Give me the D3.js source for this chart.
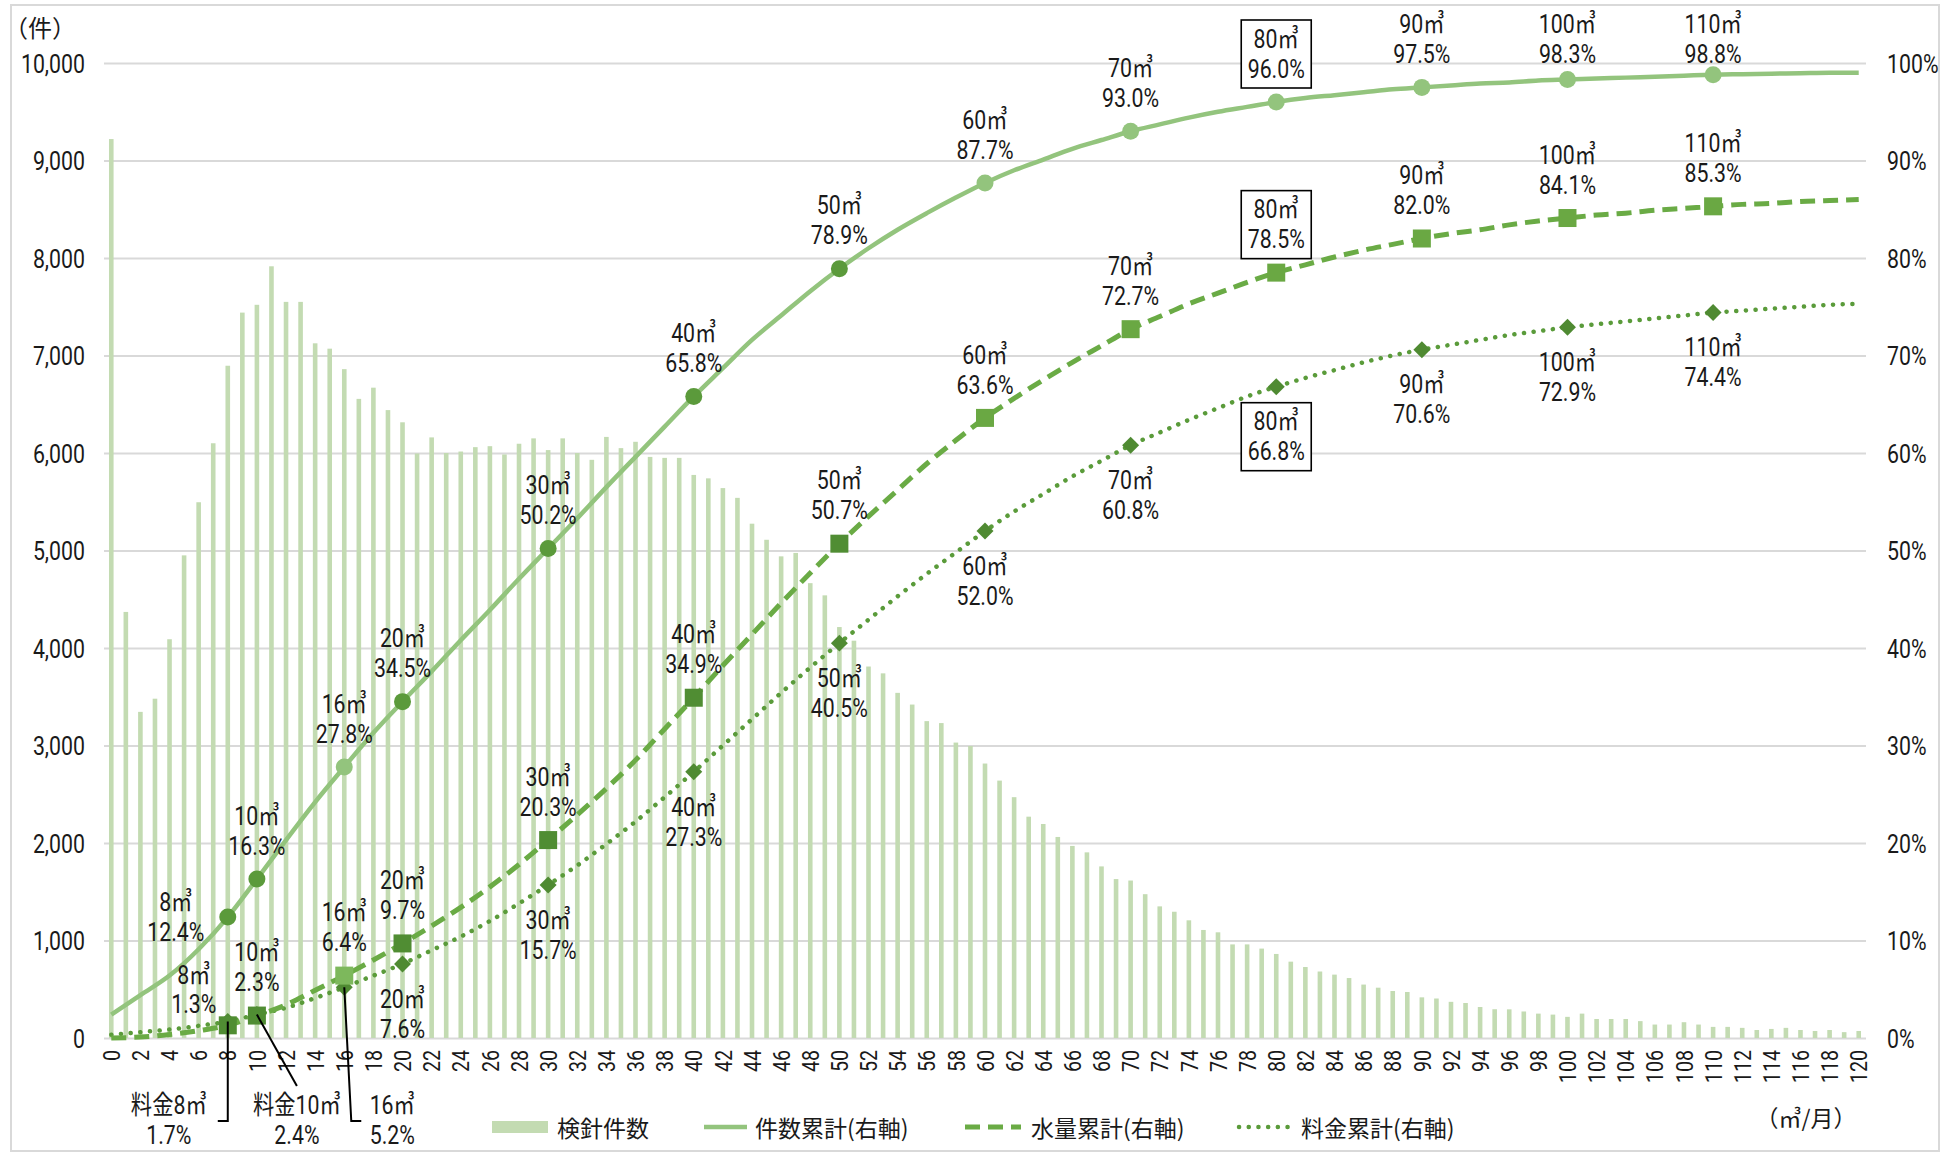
<!DOCTYPE html>
<html>
<head>
<meta charset="utf-8">
<script src="https://cdn.jsdelivr.net/npm/d3@7"></script>
<style>
  html, body { margin: 0; padding: 0; background: #ffffff; }
  svg { display: block; }
</style>
</head>
<body>
<script>
// ---------------- DATA ----------------
const categories = [0,1,2,3,4,5,6,7,8,9,10,11,12,13,14,15,16,17,18,19,20,21,22,23,24,25,26,27,28,29,30,31,32,33,34,35,36,37,38,39,40,41,42,43,44,45,46,47,48,49,50,51,52,53,54,55,56,57,58,59,60,61,62,63,64,65,66,67,68,69,70,71,72,73,74,75,76,77,78,79,80,81,82,83,84,85,86,87,88,89,90,91,92,93,94,95,96,97,98,99,100,101,102,103,104,105,106,107,108,109,110,111,112,113,114,115,116,117,118,119,120];

// 検針件数 (left axis, 件)
const meterCounts = [9220,4370,3345,3480,4090,4950,5495,6100,6895,7440,
  7520,7915,7550,7550,7125,7070,6860,6555,6670,6440,
  6315,5995,6160,6000,6015,6060,6070,5985,6095,6150,
  6030,6150,6000,5930,6165,6050,6115,5960,5950,5950,
  5775,5740,5640,5540,5275,5110,4940,4975,4665,4540,
  4215,4075,3810,3740,3540,3420,3250,3230,3030,2995,
  2815,2640,2470,2270,2195,2062,1970,1904,1760,1630,
  1615,1475,1350,1295,1207,1108,1084,960,960,917,
  862,783,728,682,650,615,548,516,482,472,
  417,405,371,359,318,295,294,272,250,240,
  217,250,195,195,195,173,138,138,162,138,
  114,114,104,82,93,104,82,72,82,60,72];

// cumulative lines (right axis, %), read at every 2 ㎥
const lineX = [0,2,4,6,8,10,12,14,16,18,20,22,24,26,28,30,32,34,36,38,40,42,44,46,48,50,52,54,56,58,60,62,64,66,68,70,72,74,76,78,80,82,84,86,88,90,92,94,96,98,100,102,104,106,108,110,112,114,116,118,120];
const countCum = [2.4,4.4,6.4,9.1,12.4,16.3,20.3,24.2,27.8,31.3,34.5,37.6,40.8,43.9,47.1,50.2,53.3,56.5,59.6,62.7,65.8,68.7,71.6,74.1,76.6,78.9,81.0,82.9,84.6,86.2,87.7,89.0,90.1,91.2,92.1,93.0,93.7,94.4,95.0,95.5,96.0,96.4,96.7,97.0,97.3,97.5,97.7,97.9,98.0,98.2,98.3,98.4,98.5,98.6,98.7,98.8,98.85,98.9,98.95,99.0,99.0];
const waterCum = [0.0,0.1,0.35,0.75,1.3,2.3,3.4,4.9,6.4,8.0,9.7,11.5,13.4,15.5,17.8,20.3,22.9,25.6,28.5,31.7,34.9,38.2,41.4,44.6,47.7,50.7,53.5,56.2,58.9,61.3,63.6,65.6,67.5,69.3,71.0,72.7,74.0,75.3,76.4,77.5,78.5,79.3,80.1,80.8,81.4,82.0,82.5,82.9,83.4,83.8,84.1,84.4,84.6,84.9,85.1,85.3,85.5,85.6,85.8,85.9,86.0];
const feeCum = [0.33,0.6,0.87,1.25,1.7,2.4,3.1,4.1,5.2,6.4,7.6,9.0,10.4,12.0,13.8,15.7,17.7,19.9,22.2,24.7,27.3,30.0,32.7,35.4,38.0,40.5,42.9,45.3,47.6,49.8,52.0,54.0,55.8,57.6,59.2,60.8,62.1,63.4,64.6,65.8,66.8,67.7,68.5,69.3,70.0,70.6,71.1,71.6,72.1,72.5,72.9,73.2,73.5,73.8,74.1,74.4,74.6,74.8,75.0,75.2,75.3];

// labelled points
const markerX = [8,10,16,20,30,40,50,60,70,80,90,100,110];
const countMarkers = [12.4,16.3,27.8,34.5,50.2,65.8,78.9,87.7,93.0,96.0,97.5,98.3,98.8];
const waterMarkers = [1.3,2.3,6.4,9.7,20.3,34.9,50.7,63.6,72.7,78.5,82.0,84.1,85.3];
const feeMarkers = [1.7,2.4,5.2,7.6,15.7,27.3,40.5,52.0,60.8,66.8,70.6,72.9,74.4];

// ticks & texts
const leftTicks = [0,1000,2000,3000,4000,5000,6000,7000,8000,9000,10000];
const rightTicks = [0,10,20,30,40,50,60,70,80,90,100];
const xTickLabels = [0,2,4,6,8,10,12,14,16,18,20,22,24,26,28,30,32,34,36,38,40,42,44,46,48,50,52,54,56,58,60,62,64,66,68,70,72,74,76,78,80,82,84,86,88,90,92,94,96,98,100,102,104,106,108,110,112,114,116,118,120];
const seriesNames = ["検針件数","件数累計(右軸)","水量累計(右軸)","料金累計(右軸)"];
const leftUnit = "（件）";
const xUnit = "（㎥/月）";
const feePrefixed = {8: "料金8㎥", 10: "料金10㎥"};

// ---------------- STYLE / LAYOUT ----------------
const W = 1943, H = 1154;
const PL = 104, PR = 1866, PT = 63, PB = 1038;
const FONT = "Roboto,'Noto Sans CJK JP',sans-serif";
const CJK = "'Noto Sans CJK JP',sans-serif";
const SX = 0.82;
const TXT = "#1a1a1a";
const C = {
  bar: "#c3dbb2", grid: "#d9d9d9",
  countLine: "#93c47d", waterLine: "#6aab45", feeLine: "#5a9b3a",
  dark: "#5b9a3b", light: "#93c47d", sqDark: "#508d33", sqLight: "#7db85c", sqMed: "#6aa843", dia: "#4f8a32"
};
const countColor = [C.dark,C.dark,C.light,C.dark,C.dark,C.dark,C.dark,C.light,C.light,C.light,C.light,C.light,C.light];
const waterColor = [C.sqDark,C.sqDark,C.sqLight,C.sqDark,C.sqDark,C.sqDark,C.sqDark,C.sqMed,C.sqMed,C.sqMed,C.sqMed,C.sqMed,C.sqMed];

const svg = d3.select("body").append("svg").attr("width", W).attr("height", H)
  .style("font-family", FONT);

svg.append("rect").attr("x", 11).attr("y", 5).attr("width", 1928).attr("height", 1146)
  .attr("fill", "#fff").attr("stroke", "#d9d9d9").attr("stroke-width", 2);

const xb = d3.scaleBand().domain(categories).range([PL, PR]).paddingInner(0).paddingOuter(0);
const xc = v => xb(v) + xb.bandwidth() / 2;
const y = d3.scaleLinear().domain([0, 10000]).range([PB, PT]);
const yr = d3.scaleLinear().domain([0, 100]).range([PB, PT]);

// grid
const grid = svg.append("g").attr("transform", `translate(${PL},0)`)
  .call(d3.axisLeft(y).tickValues(leftTicks).tickSize(-(PR - PL)).tickFormat(""));
grid.select(".domain").remove();
grid.selectAll("line").attr("stroke", C.grid).attr("stroke-width", 2);

// left axis
const la = svg.append("g").attr("transform", `translate(${PL},0)`)
  .call(d3.axisLeft(y).tickValues(leftTicks).tickSize(0).tickPadding(19).tickFormat(d3.format(",")));
la.select(".domain").remove();
la.selectAll("text").attr("font-size", 26).attr("fill", TXT).style("font-family", FONT)
  .attr("x", null).attr("dy", "0.35em").attr("transform", `translate(-19,0) scale(${SX},1)`);

// right axis
const ra = svg.append("g").attr("transform", `translate(${PR},0)`)
  .call(d3.axisRight(yr).tickValues(rightTicks).tickSize(0).tickFormat(d => d + "%"));
ra.select(".domain").remove();
ra.selectAll("text").attr("font-size", 26).attr("fill", TXT).style("font-family", FONT)
  .attr("x", null).attr("dy", "0.35em").attr("transform", `translate(21,0) scale(${SX},1)`);

// x axis
const xa = svg.append("g").attr("transform", `translate(0,${PB})`)
  .call(d3.axisBottom(xb).tickValues(xTickLabels).tickSize(0).tickFormat(d => d));
xa.select(".domain").remove();
xa.selectAll("text")
  .attr("font-size", 24).attr("fill", TXT).style("font-family", FONT)
  .attr("text-anchor", "end").attr("x", 0).attr("y", 0).attr("dy", "0.36em")
  .attr("transform", `rotate(-90) translate(-12,0) scale(${SX},1)`);

// units
svg.append("text").attr("x", 40).attr("y", 26).attr("text-anchor", "middle").attr("dominant-baseline", "central")
  .attr("font-size", 24).attr("fill", TXT).style("font-family", CJK).text(leftUnit);
svg.append("text").attr("x", 1806).attr("y", 1117).attr("text-anchor", "middle").attr("dominant-baseline", "central")
  .attr("font-size", 23).attr("fill", TXT).style("font-family", CJK).text(xUnit);

// bars
const BW = 4.6;
svg.append("g").selectAll("rect").data(categories).join("rect")
  .attr("x", d => xc(d) - BW / 2).attr("width", BW)
  .attr("y", (d, i) => y(meterCounts[i]))
  .attr("height", (d, i) => PB - y(meterCounts[i]))
  .attr("fill", C.bar);

// lines
const lineGen = d3.line().x(d => xc(d[0])).y(d => yr(d[1])).curve(d3.curveMonotoneX);
const pts = arr => lineX.map((x, i) => [x, arr[i]]);
svg.append("path").attr("d", lineGen(pts(feeCum))).attr("fill", "none")
  .attr("stroke", C.feeLine).attr("stroke-width", 4.5).attr("stroke-linecap", "round")
  .attr("stroke-dasharray", "0.1,9.6");
svg.append("path").attr("d", lineGen(pts(waterCum))).attr("fill", "none")
  .attr("stroke", C.waterLine).attr("stroke-width", 5).attr("stroke-dasharray", "15,8");
svg.append("path").attr("d", lineGen(pts(countCum))).attr("fill", "none")
  .attr("stroke", C.countLine).attr("stroke-width", 4.5);

// markers
const mk = svg.append("g");
markerX.forEach((x, i) => {
  mk.append("rect").attr("x", xc(x) - 6).attr("y", yr(feeMarkers[i]) - 6).attr("width", 12).attr("height", 12)
    .attr("transform", `rotate(45,${xc(x)},${yr(feeMarkers[i])})`).attr("fill", C.dia);
});
markerX.forEach((x, i) => {
  mk.append("rect").attr("x", xc(x) - 9).attr("y", yr(waterMarkers[i]) - 9).attr("width", 18).attr("height", 18)
    .attr("fill", waterColor[i]);
});
markerX.forEach((x, i) => {
  mk.append("circle").attr("cx", xc(x)).attr("cy", yr(countMarkers[i])).attr("r", 8.5).attr("fill", countColor[i]);
});

// labels
const lab = svg.append("g").attr("font-size", 26).attr("fill", TXT);
function ctext(cx, cy, str) {
  lab.append("text").attr("transform", `translate(${cx},${cy}) scale(${SX},1)`)
    .attr("text-anchor", "middle").attr("dominant-baseline", "central").text(str);
}
function twoLine(cx, cy1, cy2, t1, t2, boxed) {
  if (boxed) {
    lab.append("rect").attr("x", cx - 35).attr("y", cy1 - 19).attr("width", 70).attr("height", (cy2 - cy1) + 38)
      .attr("fill", "#fff").attr("stroke", "#000").attr("stroke-width", 1.6);
  }
  ctext(cx, cy1, t1);
  ctext(cx, cy2, t2);
}
function above(px, py, t1, t2, boxed) {
  const c1 = Math.max(py - 63, 24);
  twoLine(px, c1, c1 + 30, t1, t2, boxed);
}
const pct = v => v.toFixed(1) + "%";
markerX.forEach((x, i) => {
  const px = xc(x);
  // 件数累計
  let py = yr(countMarkers[i]);
  if (x === 8) twoLine(px - 52, py - 15, py + 15, x + "㎥", pct(countMarkers[i]), false);
  else above(px, py, x + "㎥", pct(countMarkers[i]), x === 80);
  // 水量累計
  py = yr(waterMarkers[i]);
  if (x === 8) twoLine(px - 34, py - 50, py - 21, x + "㎥", pct(waterMarkers[i]), false);
  else above(px, py, x + "㎥", pct(waterMarkers[i]), x === 80);
  // 料金累計
  py = yr(feeMarkers[i]);
  if (x === 8) {
    lab.append("path").attr("d", `M${px},${py}V1121H${px - 10}`).attr("fill", "none").attr("stroke", "#000").attr("stroke-width", 2);
    twoLine(px - 59, 1105, 1135, feePrefixed[8], pct(feeMarkers[i]), false);
  } else if (x === 10) {
    lab.append("path").attr("d", `M${px},${py}L${px + 40},1086`).attr("fill", "none").attr("stroke", "#000").attr("stroke-width", 2);
    twoLine(px + 40, 1105, 1135, feePrefixed[10], pct(feeMarkers[i]), false);
  } else if (x === 16) {
    lab.append("path").attr("d", `M${px},${py}L${px + 7},1121H${px + 17}`).attr("fill", "none").attr("stroke", "#000").attr("stroke-width", 2);
    twoLine(px + 48, 1105, 1135, x + "㎥", pct(feeMarkers[i]), false);
  } else {
    twoLine(px, py + 35, py + 65, x + "㎥", pct(feeMarkers[i]), x === 80);
  }
});

// legend
const lg = svg.append("g").attr("font-size", 23).attr("fill", TXT).style("font-family", CJK);
const LY = 1127;
lg.append("rect").attr("x", 492).attr("y", LY - 6).attr("width", 56).attr("height", 12).attr("fill", C.bar);
lg.append("text").attr("x", 557).attr("y", LY).attr("dominant-baseline", "central").text(seriesNames[0]);
lg.append("line").attr("x1", 704).attr("x2", 747).attr("y1", LY).attr("y2", LY).attr("stroke", C.countLine).attr("stroke-width", 4.5);
lg.append("text").attr("x", 755).attr("y", LY).attr("dominant-baseline", "central").text(seriesNames[1]);
lg.append("line").attr("x1", 965).attr("x2", 1021).attr("y1", LY).attr("y2", LY).attr("stroke", C.waterLine).attr("stroke-width", 5).attr("stroke-dasharray", "15,8");
lg.append("text").attr("x", 1031).attr("y", LY).attr("dominant-baseline", "central").text(seriesNames[2]);
lg.append("line").attr("x1", 1239).attr("x2", 1295).attr("y1", LY).attr("y2", LY).attr("stroke", C.feeLine).attr("stroke-width", 4.5).attr("stroke-linecap", "round").attr("stroke-dasharray", "0.1,9.6");
lg.append("text").attr("x", 1301).attr("y", LY).attr("dominant-baseline", "central").text(seriesNames[3]);
</script>
</body>
</html>
